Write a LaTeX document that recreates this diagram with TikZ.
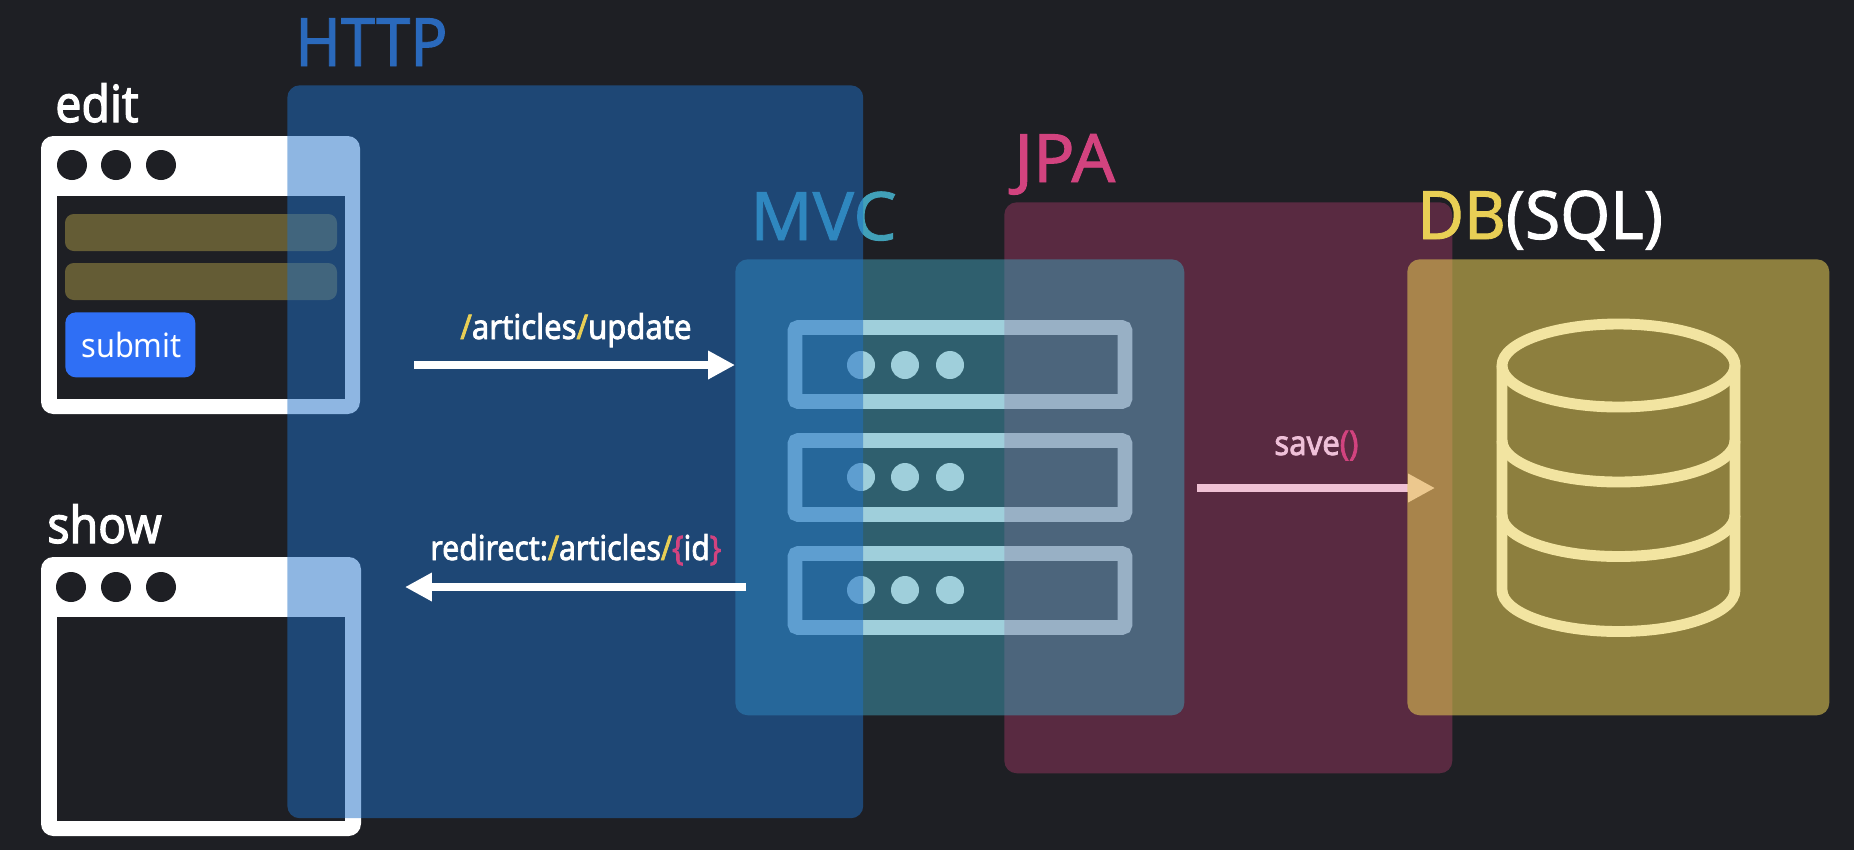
\documentclass[tikz,border=0pt]{standalone}
\usepackage{fontspec}
\setmainfont[FakeStretch=0.92]{Noto Sans}
\newfontfamily\bigfont[FakeStretch=0.92,FakeBold=1.3]{Noto Sans}
\newfontfamily\wideface[FakeStretch=1.03,FakeBold=1.3]{Noto Sans}
\newfontfamily\midface[FakeStretch=0.96,FakeBold=1.3]{Noto Sans}
\newfontfamily\heavyfont[FakeStretch=0.91,FakeBold=2.2]{Noto Sans}
\newfontfamily\heavynarrow[FakeStretch=0.885,FakeBold=2.2]{Noto Sans}
\usetikzlibrary{arrows.meta}
\definecolor{pagebg}{HTML}{1E1F24}
\definecolor{httpblue}{HTML}{1F6FC6}
\definecolor{httptext}{HTML}{2A69BC}
\definecolor{mvcteal}{HTML}{41A0B8}
\definecolor{jpapink}{HTML}{D2437F}
\definecolor{dbyellow}{HTML}{E9CF55}
\definecolor{submitblue}{HTML}{2F6FF5}
\definecolor{savepink}{HTML}{EFC0D8}
\tikzset{
  panel/.style={rectangle,rounded corners=7pt,inner sep=0pt,anchor=north west},
  bigtext/.style={inner sep=0pt,anchor=base west,font=\fontsize{38}{40}\selectfont},
  pagetext/.style={inner sep=0pt,anchor=base west,text=white,font=\fontsize{29}{31}\selectfont\heavyfont},
  arrowtext/.style={inner sep=0pt,anchor=base west,text=white,font=\fontsize{19.4}{22}\selectfont\heavyfont},
  window/.style={fill=white,rounded corners=7pt},
  windot/.style={fill=pagebg},
  inputbar/.style={fill=dbyellow,fill opacity=0.35,rounded corners=5pt},
  serverrow/.style={draw=white,line width=8.5pt,rounded corners=2pt},
  dbicon/.style={draw=white,line width=6.2pt},
  flow/.style={draw=white,line width=4pt,-{Triangle[length=15.3pt,width=15.3pt]}}
}
\begin{document}
\begin{tikzpicture}[x=0.02cm,y=0.02cm]
\useasboundingbox (0,0) rectangle (1854,-850);
\fill [pagebg] (0,0) rectangle (1854,-850);
\fill [window] (41,-136) rectangle (360,-414);
\fill [pagebg] (57,-196) rectangle (345,-399);
\fill [windot] (72,-165) circle (15);
\fill [windot] (116,-165) circle (15);
\fill [windot] (161,-165) circle (15);
\fill [inputbar] (65,-214) rectangle (337,-251);
\fill [inputbar] (65,-263) rectangle (337,-300);
\node (submitbtn) [rectangle,fill=submitblue,rounded corners=6pt,inner sep=0pt,anchor=north west,minimum width=2.6cm,minimum height=1.3cm] at (65,-312) {};
\node (submittext) [inner sep=0pt,anchor=base west,text=white,font=\fontsize{19}{22}\selectfont] at (81,-357) {submit};
\fill [window] (41,-557) rectangle (361,-836);
\fill [pagebg] (57,-617) rectangle (345,-821);
\fill [windot] (71,-587) circle (15);
\fill [windot] (116,-587) circle (15);
\fill [windot] (161,-587) circle (15);
\draw [serverrow] (795,-327.5) rectangle (1125,-401.5);
\fill [white] (861,-365) circle (14);
\fill [white] (905,-365) circle (14);
\fill [white] (950,-365) circle (14);
\draw [serverrow] (795,-440.5) rectangle (1125,-514.5);
\fill [white] (861,-477) circle (14);
\fill [white] (905,-477) circle (14);
\fill [white] (950,-477) circle (14);
\draw [serverrow] (795,-553.5) rectangle (1125,-627.5);
\fill [white] (861,-590) circle (14);
\fill [white] (905,-590) circle (14);
\fill [white] (950,-590) circle (14);
\draw [dbicon] (1618.5,-365.5) ellipse (116.5 and 41.5);
\draw [dbicon] (1502,-365.5) -- (1502,-590) arc (180:360:116.5 and 41.5) -- (1735,-365.5);
\draw [dbicon] (1502,-440.5) arc (180:360:116.5 and 41.5);
\draw [dbicon] (1502,-515) arc (180:360:116.5 and 41.5);
\coordinate (savefrom) at (1197,-488);
\coordinate (saveto) at (1435,-488);
\draw [flow] (savefrom) -- (saveto);
\node (jpa) [panel,fill=jpapink,fill opacity=0.33,minimum width=8.96cm,minimum height=11.42cm] at (1004,-202) {};
\node (mvc) [panel,fill=mvcteal,fill opacity=0.5,minimum width=8.98cm,minimum height=9.12cm] at (735,-259) {};
\node (db) [panel,fill=dbyellow,fill opacity=0.55,minimum width=8.44cm,minimum height=9.12cm] at (1407,-259) {};
\node (mvclabel) [bigtext,text=mvcteal] at (750,-240) {\wideface MVC};
\node (http) [panel,fill=httpblue,fill opacity=0.5,minimum width=11.52cm,minimum height=14.66cm] at (287,-85) {};
\node (httplabel) [bigtext,text=httptext] at (295,-66) {\bigfont HTTP};
\node (jpalabel) [bigtext,text=jpapink] at (1014,-182) {\wideface JPA};
\node (dblabel) [bigtext,text=white] at (1417,-239) {\midface\textcolor{dbyellow}{DB}(SQL)};
\node (editlabel) [pagetext] at (55,-122) {edit};
\node (showlabel) [pagetext] at (47,-543) {show};
\coordinate (updatefrom) at (414,-365);
\draw [flow] (updatefrom) -- (updatefrom -| mvc.west);
\node (updatetext) [arrowtext] at (460,-339) {\textcolor{dbyellow}{/}articles\textcolor{dbyellow}{/}update};
\coordinate (redirectfrom) at (746,-587);
\coordinate (redirectto) at (405,-587);
\draw [flow] (redirectfrom) -- (redirectto);
\node (redirecttext) [arrowtext] at (430,-560) {\heavynarrow redirect:\textcolor{dbyellow}{/}articles\textcolor{dbyellow}{/}\textcolor{jpapink}{\{}id\textcolor{jpapink}{\}}};
\node (savetext) [arrowtext,text=savepink] at (1274,-455) {save\textcolor{jpapink}{()}};
\end{tikzpicture}
\end{document}
